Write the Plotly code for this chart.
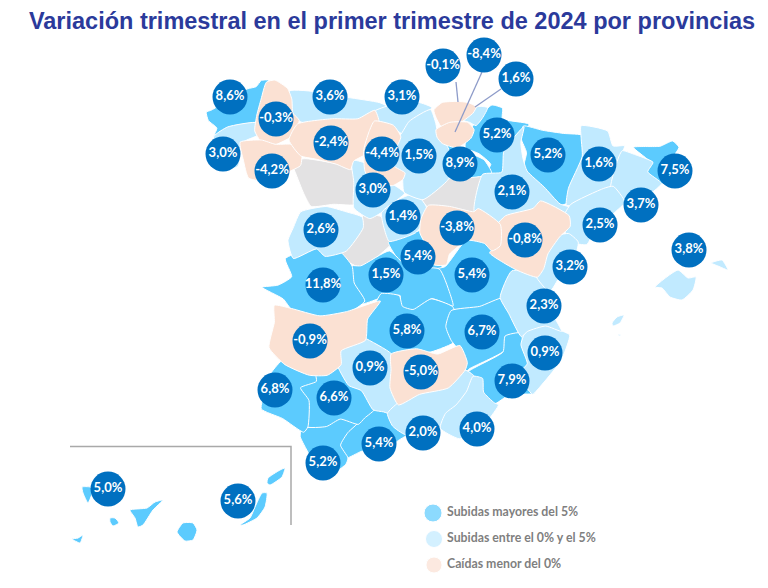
# Variacion trimestral por provincias, mapa hecho a mano con poligonos de cada provincia

import plotly.graph_objects as go

# Contornos de provincias, en unidades del mapa
a_coruna = [(208,112),(213,110),(247,90),(255,88),(260,82),(267,82),(260,103),(257,123),(240,125),(227,127),(215,135),(218,127),(210,120)]
lugo = [(267,84),(275,82),(287,90),(291,100),(292,113),(298,120),(294,130),(288,137),(275,143),(262,140),(256,130),(258,115),(262,100)]
pontevedra = [(215,137),(228,128),(256,124),(258,135),(245,141),(241,148),(238,165),(222,170),(215,160)]
ourense = [(242,143),(262,141),(275,145),(290,145),(300,150),(299,165),(290,170),(270,180),(250,177),(245,160)]
asturias = [(292,92),(320,93),(347,98),(377,103),(387,108),(375,112),(357,120),(333,120),(310,123),(300,120),(293,112)]
cantabria = [(387,107),(417,103),(430,108),(423,115),(410,123),(403,133),(393,127),(375,118),(375,112)]
leon = [(300,125),(333,120),(357,120),(373,112),(377,123),(370,133),(367,143),(365,153),(353,160),(350,168),(337,163),(317,158),(303,155),(292,140)]
palencia = [(375,123),(393,127),(400,138),(395,150),(393,165),(404,172),(402,178),(392,184),(372,180),(366,170),(365,150),(370,133)]
valladolid = [(353,162),(366,165),(372,181),(392,185),(403,193),(395,200),(383,210),(370,217),(355,207),(355,183)]
zamora = [(293,162),(307,160),(337,165),(350,170),(355,183),(355,203),(333,203),(312,205),(305,193),(297,173)]
salamanca = [(295,228),(302,213),(326,208),(345,213),(360,218),(361,228),(345,250),(325,255),(317,248),(295,257),(290,240)]
avila = [(363,217),(380,218),(390,243),(380,253),(363,267),(353,263),(338,253),(350,240),(362,227)]
segovia = [(383,213),(400,200),(415,195),(425,207),(425,220),(415,232),(400,238),(390,240)]
madrid = [(390,243),(400,238),(420,232),(427,235),(440,255),(440,268),(425,275),(410,268),(400,260)]
soria = [(423,197),(447,180),(483,177),(487,187),(480,207),(473,213),(450,208),(430,207)]
burgos = [(403,134),(410,123),(430,112),(435,125),(437,135),(445,145),(450,155),(455,165),(445,180),(423,197),(405,190),(403,172),(393,165),(395,150),(400,138)]
vizcaya = [(435,110),(443,103),(457,102),(467,103),(475,107),(472,113),(460,122),(443,127),(437,117)]
alava = [(437,130),(450,123),(467,123),(473,130),(470,138),(457,147),(443,143),(438,137)]
gipuzkoa = [(472,110),(478,107),(487,108),(482,118),(476,125),(470,122),(464,120)]
navarra = [(468,137),(480,118),(492,107),(502,110),(502,120),(527,125),(523,133),(505,153),(503,173),(485,173),(491,163),(480,153),(467,147)]
la_rioja = [(442,143),(457,148),(473,155),(483,160),(490,172),(483,175),(460,177),(447,168),(440,153)]
huesca = [(525,128),(543,132),(563,135),(582,137),(583,150),(577,170),(570,187),(568,200),(558,203),(543,187),(525,170),(528,153),(523,140)]
zaragoza = [(505,153),(524,130),(521,145),(523,160),(527,172),(543,187),(558,203),(570,207),(565,217),(540,203),(533,210),(507,217),(498,225),(477,210),(485,175),(503,173)]
lleida = [(582,128),(607,133),(612,147),(623,147),(620,155),(613,180),(612,187),(605,190),(573,203),(568,203),(570,187),(583,157),(582,140)]
girona = [(635,148),(660,147),(672,142),(678,148),(673,157),(677,173),(660,183),(647,170),(652,163)]
barcelona = [(623,152),(633,155),(652,163),(647,172),(660,183),(643,197),(623,203),(612,187),(620,157)]
tarragona = [(612,188),(623,203),(613,213),(593,233),(587,243),(577,242),(568,235),(565,217),(572,205),(603,190)]
teruel = [(498,227),(507,217),(533,210),(540,203),(567,217),(568,227),(558,237),(547,253),(543,267),(537,275),(517,268),(492,252),(498,245)]
guadalajara = [(423,220),(430,207),(450,208),(473,213),(477,210),(498,225),(498,245),(490,250),(483,243),(467,240),(450,253),(447,263),(435,263),(427,243),(422,233)]
cuenca = [(447,267),(467,242),(483,243),(492,252),(517,268),(513,273),(502,298),(480,308),(453,307),(447,293),(437,270)]
toledo = [(350,267),(363,267),(390,253),(407,268),(437,270),(447,293),(450,305),(430,298),(413,310),(400,307),(400,295),(380,298),(363,303),(353,283)]
caceres = [(287,260),(317,250),(325,257),(338,253),(350,267),(352,283),(362,300),(345,312),(320,317),(293,308),(285,298),(265,287),(280,285),(293,277)]
badajoz = [(277,307),(293,310),(320,317),(345,313),(377,303),(365,320),(363,340),(340,350),(340,363),(327,373),(310,373),(287,363),(272,347),(277,323)]
ciudad_real = [(377,305),(383,295),(400,297),(403,307),(413,310),(430,300),(450,307),(453,313),(448,327),(453,340),(430,350),(393,353),(365,337),(370,317)]
albacete = [(453,312),(480,308),(502,300),(510,313),(525,337),(517,340),(507,338),(503,350),(470,367),(467,370),(463,353),(453,340),(448,327)]
murcia = [(470,372),(503,353),(505,338),(520,335),(522,350),(528,363),(520,373),(533,392),(510,393),(493,403),(483,393),(482,380),(472,378)]
alicante = [(522,345),(528,330),(545,325),(560,332),(568,336),(560,360),(540,385),(533,392),(520,373),(528,363)]
valencia = [(513,273),(537,275),(550,290),(545,300),(555,320),(560,330),(545,325),(528,330),(522,335),(510,313),(502,298)]
castellon = [(547,253),(558,237),(568,235),(577,243),(573,260),(560,275),(550,290),(537,275),(540,267)]
cordoba = [(340,352),(360,337),(365,340),(390,355),(393,370),(392,387),(397,402),(390,412),(383,410),(373,408),(362,390),(350,385),(338,363)]
jaen = [(393,355),(417,350),(437,355),(458,347),(465,363),(463,370),(447,387),(420,393),(400,403),(392,387),(393,370)]
granada = [(400,403),(420,393),(447,387),(463,372),(472,378),(467,392),(457,405),(447,413),(442,425),(427,428),(407,433),(395,425),(390,413)]
almeria = [(473,378),(482,380),(483,393),(493,403),(497,405),(487,420),(480,430),(460,437),(442,427),(447,413),(457,405),(467,392)]
malaga = [(357,425),(372,412),(383,410),(392,417),(407,433),(397,440),(383,450),(363,450),(347,457),(340,447),(347,433)]
cadiz = [(303,430),(327,425),(340,418),(357,423),(347,433),(340,445),(347,457),(345,463),(323,477),(310,453),(302,437)]
sevilla = [(300,388),(315,382),(317,373),(338,365),(350,385),(362,390),(373,408),(363,417),(357,423),(340,418),(327,425),(307,425),(308,400)]
huelva = [(283,362),(288,365),(313,373),(315,382),(300,388),(308,400),(307,425),(303,430),(283,417),(263,408),(267,390),(273,373)]
mallorca = [(655,287),(678,270),(688,278),(696,277),(693,290),(682,300),(670,297),(662,288)]
menorca = [(711,263),(722,260),(728,270),(718,266)]
ibiza = [(612,323),(617,317),(624,315),(620,323),(613,326)]
formentera = [(618,334),(621,335),(619,336)]
la_palma = [(82,487),(90,487),(93,490),(88,503),(83,493)]
tenerife = [(130,510),(147,508),(155,502),(163,500),(153,510),(143,525),(138,527),(135,518)]
gomera = [(110,518),(115,518),(119,523),(113,526),(110,522)]
hierro = [(72,539),(78,538),(83,535),(80,543)]
gran_canaria = [(183,523),(193,523),(197,530),(193,540),(185,541),(177,532)]
fuerteventura = [(262,493),(267,493),(265,507),(257,518),(243,525),(240,525),(250,518),(255,507)]
lanzarote = [(268,478),(280,470),(285,468),(282,477),(270,485),(267,483)]

# Provincias por categoria
mayores_5 = [a_coruna, madrid, navarra, la_rioja, huesca, girona, cuenca, toledo, caceres, ciudad_real, albacete, murcia, malaga, cadiz, sevilla, huelva, la_palma, tenerife, gomera, hierro, gran_canaria, fuerteventura, lanzarote]
entre_0_5 = [pontevedra, asturias, cantabria, valladolid, salamanca, segovia, burgos, gipuzkoa, zaragoza, lleida, barcelona, tarragona, alicante, valencia, castellon, cordoba, granada, almeria, mallorca, menorca, ibiza, formentera]
caidas = [lugo, ourense, leon, palencia, vizcaya, alava, teruel, guadalajara, badajoz, jaen]
sin_dato = [zamora, avila, soria]
islas = [la_palma, tenerife, gomera, hierro, gran_canaria, fuerteventura, lanzarote, mallorca, menorca, ibiza, formentera]

# Etiquetas de cada provincia
etiquetas = ["8,6%", "-0,3%", "3,6%", "3,1%", "-0,1%", "-8,4%", "1,6%", "5,2%", "5,2%", "1,6%", "7,5%", "3,7%", "2,5%", "-0,8%", "2,1%", "8,9%", "-3,8%", "3,0%", "-4,2%", "-2,4%", "-4,4%", "1,5%", "3,0%", "1,4%", "2,6%", "5,4%", "1,5%", "5,4%", "11,8%", "3,2%", "2,3%", "5,8%", "6,7%", "0,9%", "-0,9%", "0,9%", "-5,0%", "7,9%", "6,8%", "6,6%", "5,4%", "2,0%", "4,0%", "5,2%", "5,0%", "5,6%", "3,8%"]
etiquetas_x = [230, 276, 330, 402, 443, 484, 516, 497, 548, 599, 675, 641, 600, 525, 512, 460, 457, 223, 272, 331, 382, 419, 373, 403, 321, 418, 386, 472, 323, 570, 544, 407, 482, 545, 310, 370, 421, 512, 275, 334, 379, 423, 477, 323, 108, 238, 689]
etiquetas_y = [97, 119, 97, 97, 66, 55, 79, 135, 155, 164, 171, 205, 225, 240, 192, 164, 228, 154, 171, 143, 154, 156, 190, 217, 230, 257, 275, 275, 285, 267, 306, 331, 332, 353, 341, 368, 372, 381, 390, 398, 444, 433, 429, 463, 489, 501, 250]

# Lineas guia de Vizcaya, Alava y Gipuzkoa
guias_x = [456, 458, None, 482, 455, None, 501, 475]
guias_y = [82, 102, None, 72, 132, None, 89, 107]
# Recuadro de Canarias
recuadro_x = [70, 291, 291]
recuadro_y = [446.5, 446.5, 525]

leyenda_textos = ["Subidas mayores del 5%", "Subidas entre el 0% y el 5%", "Caídas menor del 0%"]
leyenda_x = [433, 434, 434]
leyenda_y = [513, 539, 565]

AZUL_FUERTE = "#5ccbfe"
AZUL_CLARO = "#c1eaff"
MELOCOTON = "#fbe1d3"
GRIS = "#e3e2e3"
AZUL_BURBUJA = "#0070c0"


def contorno(poligono):
    # se agranda un poco cada provincia para que solo quede la raya blanca entre ellas
    k = 1 if poligono in islas else 1.06
    cx = sum(p[0] for p in poligono) / len(poligono)
    cy = sum(p[1] for p in poligono) / len(poligono)
    cerrado = poligono + [poligono[0]]
    return [cx + (p[0] - cx) * k for p in cerrado], [cy + (p[1] - cy) * k for p in cerrado]


fig = go.Figure()

# una traza por provincia, asi la que va encima tapa la raya de la de abajo
for grupo, color in [(sin_dato, GRIS), (mayores_5, AZUL_FUERTE), (entre_0_5, AZUL_CLARO), (caidas, MELOCOTON)]:
    for poligono in grupo:
        xs, ys = contorno(poligono)
        fig.add_trace(go.Scatter(x=xs, y=ys, mode="lines", fill="toself", fillcolor=color,
                                 line=dict(color="white", width=1, shape="spline", smoothing=0.5), hoverinfo="skip"))

fig.add_trace(go.Scatter(x=guias_x, y=guias_y, mode="lines", line=dict(color="#8d9bc9", width=1.3), hoverinfo="skip"))
fig.add_trace(go.Scatter(x=recuadro_x, y=recuadro_y, mode="lines", line=dict(color="#a9a9a9", width=1.5), hoverinfo="skip"))

fig.add_trace(go.Scatter(x=etiquetas_x, y=etiquetas_y, mode="markers+text", text=etiquetas, textposition="middle center",
                         marker=dict(size=35, color=AZUL_BURBUJA), textfont=dict(family="Lato", size=13, color="white", weight="bold")))

fig.add_trace(go.Scatter(x=leyenda_x, y=leyenda_y, mode="markers", marker=dict(size=[18, 17, 16], color=[AZUL_FUERTE, AZUL_CLARO, MELOCOTON])))
fig.add_trace(go.Scatter(x=[447, 447, 447], y=leyenda_y, mode="text", text=leyenda_textos, textposition="middle right",
                         textfont=dict(family="Lato", size=12.3, color="#7f7f7f", weight="bold")))

fig.update_layout(
    title=dict(text="<b>Variación trimestral en el primer trimestre de 2024 por provincias</b>", x=0.5104, xanchor="center", y=0.964, yanchor="middle",
               font=dict(family="Liberation Sans", size=23.5, color="#2b3a9b")),
    width=768, height=588, margin=dict(l=0, r=0, t=0, b=0), showlegend=False,
    paper_bgcolor="white", plot_bgcolor="white",
    xaxis=dict(range=[0, 768], visible=False, fixedrange=True),
    yaxis=dict(range=[588, 0], visible=False, fixedrange=True),
)

fig.write_html("out.html", config=dict(displayModeBar=False), post_script="document.body.style.margin='0';")
